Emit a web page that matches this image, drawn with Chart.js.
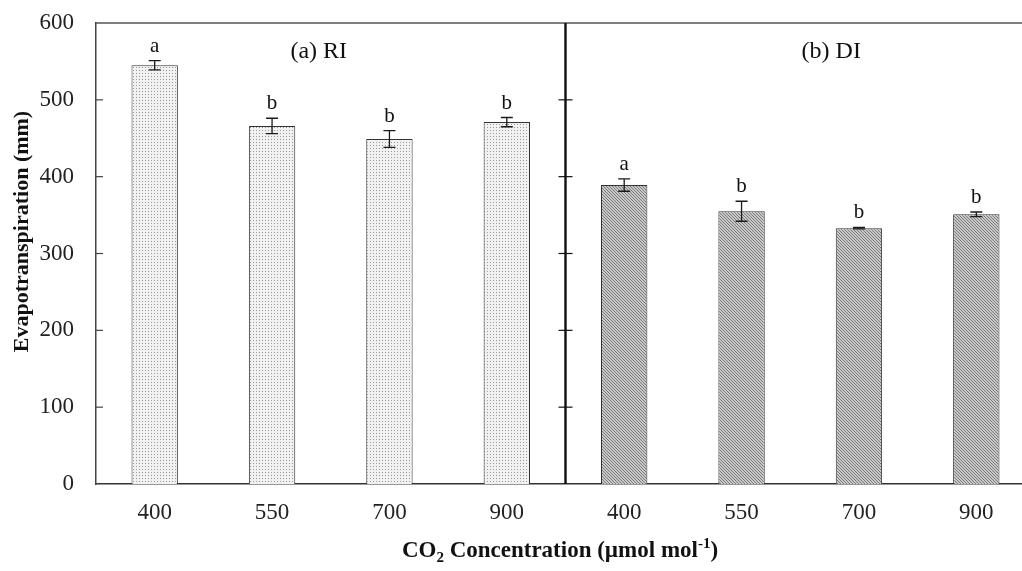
<!DOCTYPE html>
<html>
<head>
<meta charset="utf-8">
<script src="https://cdn.jsdelivr.net/npm/chart.js@4.4.1/dist/chart.umd.min.js"></script>
<style>
  html, body { margin: 0; padding: 0; background: #fff; overflow: hidden; }
  #wrap { width: 1040px; height: 571px; }
</style>
</head>
<body>
<div id="wrap"><canvas id="grafico" width="1040" height="571"></canvas></div>
<script>
// datos
const categorias = ["400", "550", "700", "900", "400", "550", "700", "900"];
const etRI = [545, 466, 449, 471];
const etDI = [389, 355, 333, 351];
const errRI = [6, 10, 11, 6];
const errDI = [8, 13, 1, 3];
const letrasRI = ["a", "b", "b", "b"];
const letrasDI = ["a", "b", "b", "b"];
const yTicks = [0, 100, 200, 300, 400, 500, 600];
const paneles = ["(a) RI", "(b) DI"];

const valores = etRI.concat(etDI);
const errores = errRI.concat(errDI);
const letras = letrasRI.concat(letrasDI);

const FUENTE = "'Liberation Serif', 'Times New Roman', serif";

function crearPatron(tam, fondo, tinta, pixeles) {
  const c = document.createElement("canvas");
  c.width = tam;
  c.height = tam;
  const g = c.getContext("2d");
  g.fillStyle = fondo;
  g.fillRect(0, 0, tam, tam);
  g.fillStyle = tinta;
  pixeles.forEach(p => g.fillRect(p[0], p[1], 1, 1));
  return g.createPattern(c, "repeat");
}

const ctx = document.getElementById("grafico").getContext("2d");
const patronRI = crearPatron(3, "#f1f1f1", "#999", [[1, 1]]);
const patronDI = crearPatron(3, "#c9c9c9", "#7a7a7a", [[0, 0], [1, 1], [2, 2]]);
const rellenos = valores.map((v, i) => i < 4 ? patronRI : patronDI);

const extras = {
  id: "extras",
  afterDatasetsDraw(chart) {
    const c = chart.ctx;
    const x = chart.scales.x;
    const y = chart.scales.y;
    const area = chart.chartArea;
    c.save();

    // barras de error y letras
    c.strokeStyle = "#1a1a1a";
    c.lineWidth = 1.3;
    c.fillStyle = "#111";
    c.font = "21px " + FUENTE;
    c.textAlign = "center";
    c.textBaseline = "alphabetic";
    valores.forEach((v, i) => {
      const px = x.getPixelForValue(i);
      const top = y.getPixelForValue(v + errores[i]);
      const bot = y.getPixelForValue(v - errores[i]);
      c.beginPath();
      c.moveTo(px, top); c.lineTo(px, bot);
      c.moveTo(px - 6, top); c.lineTo(px + 6, top);
      c.moveTo(px - 6, bot); c.lineTo(px + 6, bot);
      c.stroke();
      c.fillText(letras[i], px, top - 9);
    });

    // borde superior
    c.strokeStyle = "#555";
    c.lineWidth = 1.5;
    c.beginPath();
    c.moveTo(area.left, area.top);
    c.lineTo(chart.width, area.top);
    c.stroke();

    // marcas interiores del eje izquierdo
    c.strokeStyle = "#444";
    c.lineWidth = 1.2;
    yTicks.slice(1, -1).forEach(t => {
      const py = y.getPixelForValue(t);
      c.beginPath();
      c.moveTo(area.left, py);
      c.lineTo(area.left + 7, py);
      c.stroke();
    });

    // separador entre paneles
    const xd = (x.getPixelForValue(3) + x.getPixelForValue(4)) / 2;
    c.strokeStyle = "#111";
    c.lineWidth = 2.4;
    c.beginPath();
    c.moveTo(xd, area.top);
    c.lineTo(xd, area.bottom);
    c.stroke();
    c.lineWidth = 1.2;
    yTicks.slice(1, -1).forEach(t => {
      const py = y.getPixelForValue(t);
      c.beginPath();
      c.moveTo(xd - 7, py);
      c.lineTo(xd + 7, py);
      c.stroke();
    });

    // etiquetas de panel
    c.fillStyle = "#111";
    c.font = "24px " + FUENTE;
    c.textAlign = "center";
    c.textBaseline = "alphabetic";
    c.fillText(paneles[0], (area.left + xd) / 2 - 12, area.top + 35);
    c.fillText(paneles[1], xd + (area.right - xd) * 0.566, area.top + 35);

    // titulo eje y
    c.save();
    c.translate(22, (area.top + area.bottom) / 2 - 22);
    c.rotate(-Math.PI / 2);
    c.textBaseline = "middle";
    c.font = "bold 22px " + FUENTE;
    c.fillText("Evapotranspiration (mm)", 0, 0);
    c.restore();

    // titulo eje x con subindice y superindice
    const partes = [
      { t: "CO", f: "bold 23px", dy: 0 },
      { t: "2", f: "bold 15px", dy: 5 },
      { t: " Concentration (\u00b5mol mol", f: "bold 23px", dy: 0 },
      { t: "-1", f: "bold 15px", dy: -9 },
      { t: ")", f: "bold 23px", dy: 0 }
    ];
    let ancho = 0;
    partes.forEach(p => { c.font = p.f + " " + FUENTE; ancho += c.measureText(p.t).width; });
    let xx = 560 - ancho / 2;
    const base = 557;
    c.textAlign = "left";
    partes.forEach(p => {
      c.font = p.f + " " + FUENTE;
      c.fillText(p.t, xx, base + p.dy);
      xx += c.measureText(p.t).width;
    });

    c.restore();
  }
};

new Chart(ctx, {
  type: "bar",
  data: {
    labels: categorias,
    datasets: [{
      label: "Evapotranspiration",
      data: valores,
      backgroundColor: rellenos,
      borderColor: "#333",
      borderWidth: 1,
      categoryPercentage: 1,
      barPercentage: 0.395
    }]
  },
  options: {
    responsive: false,
    animation: false,
    layout: { padding: { top: 23, right: 5, left: 0, bottom: 0 } },
    plugins: { legend: { display: false }, tooltip: { enabled: false } },
    scales: {
      x: {
        offset: true,
        grid: { display: false, drawTicks: false },
        border: { display: true, color: "#333", width: 1.5 },
        ticks: { color: "#222", padding: 15, font: { family: FUENTE, size: 23 } },
        afterFit: s => { s.height = 87; s.paddingLeft = 0; s.paddingRight = 0; }
      },
      y: {
        min: 0,
        max: 600,
        afterBuildTicks: s => { s.ticks = yTicks.map(v => ({ value: v })); },
        grid: { display: false, drawTicks: false },
        border: { display: true, color: "#444", width: 1.5 },
        ticks: { color: "#222", padding: 22, font: { family: FUENTE, size: 23 } },
        afterFit: s => { s.width = 96; s.paddingTop = 0; s.paddingBottom = 0; }
      }
    }
  },
  plugins: [extras]
});
</script>
</body>
</html>
